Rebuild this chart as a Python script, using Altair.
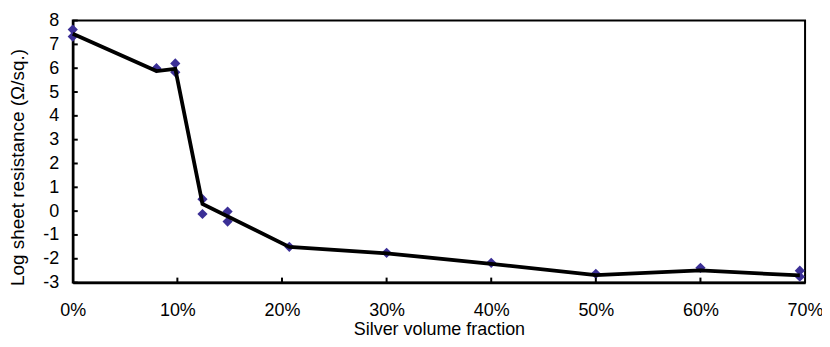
import altair as alt
import pandas as pd

# Measured points (silver volume fraction, log sheet resistance)
pt_x = [0.0, 0.0, 0.080, 0.098, 0.098, 0.124, 0.124, 0.148, 0.148, 0.207, 0.30, 0.40, 0.50, 0.60, 0.695, 0.695]
pt_y = [7.62, 7.33, 6.00, 6.20, 5.83, 0.50, -0.12, -0.02, -0.44, -1.50, -1.75, -2.17, -2.63, -2.38, -2.50, -2.75]

# Trend line
ln_x = [0.0, 0.080, 0.098, 0.124, 0.207, 0.30, 0.40, 0.50, 0.60, 0.695]
ln_y = [7.45, 5.88, 5.97, 0.30, -1.50, -1.77, -2.21, -2.69, -2.49, -2.70]

x_ticks = [0.0, 0.1, 0.2, 0.3, 0.4, 0.5, 0.6, 0.7]
y_ticks = [-3, -2, -1, 0, 1, 2, 3, 4, 5, 6, 7, 8]

FONT = "Liberation Sans"
W, H = 735, 263

pts = pd.DataFrame({"x": pt_x, "y": pt_y})
line = pd.DataFrame({"x": ln_x, "y": ln_y})
ytk = pd.DataFrame({"v": y_ticks})
xtk = pd.DataFrame({"v": x_ticks[1:-1]})

xscale = alt.Scale(domain=[0, 0.7], nice=False, zero=False)
yscale = alt.Scale(domain=[-3, 8], nice=False, zero=False)

xaxis = alt.Axis(values=x_ticks, format=".0%", title="Silver volume fraction",
                 ticks=False, grid=False, domainColor="black", domainWidth=2.5,
                 labelFont=FONT, labelFontSize=18, labelColor="black", labelPadding=19,
                 labelOverlap=False, labelFlush=False,
                 titleFont=FONT, titleFontSize=18, titleFontWeight="normal", titleColor="black",
                 titleY=52, titleBaseline="alphabetic")
yaxis = alt.Axis(values=y_ticks, title="Log sheet resistance (Ω/sq.)",
                 ticks=False, grid=False, domainColor="black", domainWidth=2.5,
                 labelFont=FONT, labelFontSize=18, labelColor="black", labelPadding=14,
                 labelBaseline="middle", labelOverlap=False, labelFlush=False,
                 labelExpr="'' + datum.value",
                 titleFont=FONT, titleFontSize=19, titleFontWeight="normal", titleColor="black",
                 titleX=-55, titleY=147, titleBaseline="middle")

points = alt.Chart(pts).mark_point(shape="diamond", filled=True, size=105,
                                   color="#3b2f96", opacity=1).encode(
    x=alt.X("x:Q", scale=xscale, axis=xaxis),
    y=alt.Y("y:Q", scale=yscale, axis=yaxis),
)

trend = alt.Chart(line).mark_line(color="black", strokeWidth=3.8).encode(
    x=alt.X("x:Q", scale=xscale, axis=xaxis),
    y=alt.Y("y:Q", scale=yscale, axis=yaxis),
)

yticks = alt.Chart(ytk).mark_rule(color="black", strokeWidth=2).encode(
    y=alt.Y("v:Q", scale=yscale, axis=yaxis),
    x=alt.value(0), x2=alt.value(5),
)
xticks = alt.Chart(xtk).mark_rule(color="black", strokeWidth=2).encode(
    x=alt.X("v:Q", scale=xscale, axis=xaxis),
    y=alt.value(H), y2=alt.value(H - 5),
)

chart = alt.layer(points, trend, yticks, xticks).properties(
    width=W, height=H,
    background="white",
    autosize=alt.AutoSizeParams(type="none"),
    padding={"left": 65, "top": 12, "right": 17, "bottom": 55},
).configure_axis(labelOverlap=False).configure_view(stroke="black", strokeWidth=2)

chart.save("out.html", embed_options={"renderer": "svg", "actions": False})
